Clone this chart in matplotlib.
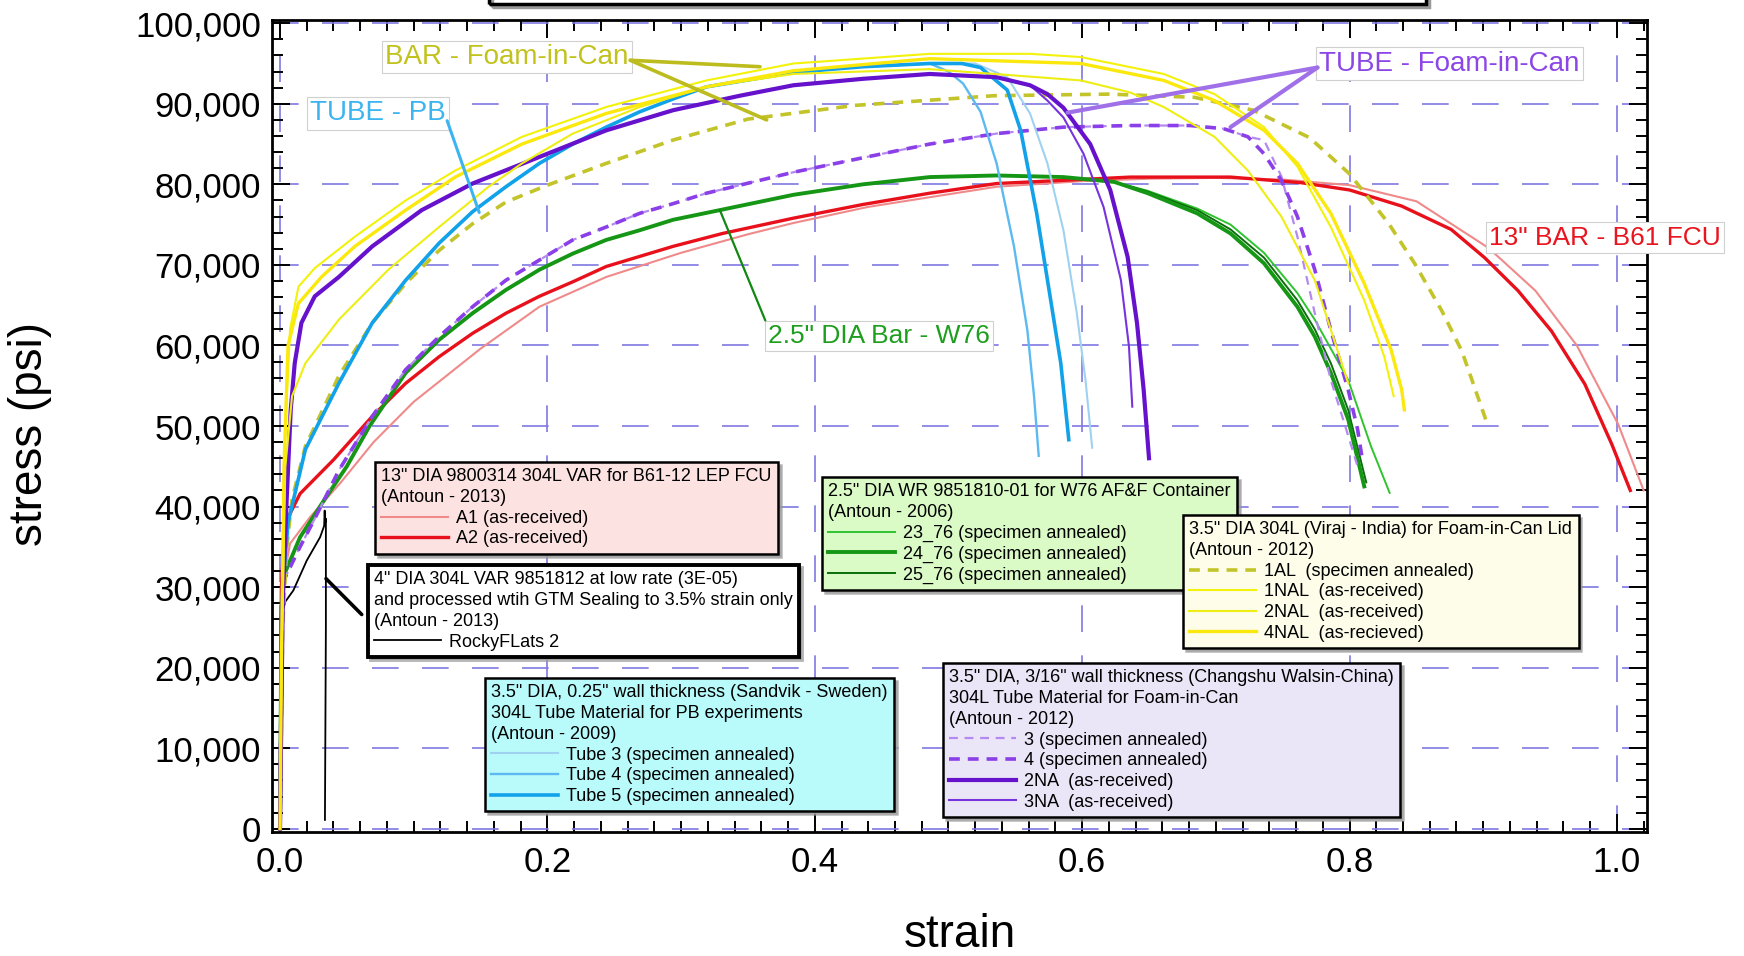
import matplotlib
matplotlib.use("Agg")
import matplotlib.pyplot as plt
from matplotlib.patches import Rectangle
from matplotlib.ticker import MultipleLocator, FuncFormatter, FormatStrFormatter

plt.rcParams['font.family'] = ['Liberation Sans', 'DejaVu Sans']

W, H = 1744, 956

# ---------------- stress-strain curves (strain, stress in ksi) ----------------
# 13" DIA 9800314 304L VAR, B61-12 LEP FCU
a1_strain = [0, 0.0015, 0.0075, 0.0225, 0.045, 0.07, 0.1, 0.15, 0.194, 0.244, 0.3, 0.35, 0.384,
             0.44, 0.486, 0.536, 0.6, 0.65, 0.7, 0.75, 0.8, 0.85, 0.904, 0.939, 0.97, 1.001, 1.02]
a1_ksi = [0, 30, 35.4, 38.7, 42.9, 48, 53, 59.6, 64.8, 68.5, 71.5, 73.8, 75.2,
          77.2, 78.4, 79.7, 80.4, 80.7, 80.8, 80.6, 79.9, 77.9, 72.1, 66.8, 60, 50.2, 42]
a2_strain = [0, 0.001, 0.0025, 0.005, 0.015, 0.04, 0.069, 0.094, 0.119, 0.144, 0.169, 0.194,
             0.219, 0.244, 0.294, 0.331, 0.384, 0.436, 0.486, 0.536, 0.586, 0.636, 0.711, 0.764,
             0.8, 0.839, 0.876, 0.901, 0.926, 0.951, 0.976, 0.996, 1.01]
a2_ksi = [0, 30, 34.6, 38.3, 41.6, 45.8, 51.2, 55.3, 58.6, 61.5, 64, 66.1,
          67.9, 69.8, 72.3, 73.9, 75.8, 77.5, 78.9, 80.1, 80.5, 80.9, 80.9, 80.2,
          79.3, 77.3, 74.4, 70.9, 66.8, 61.8, 55.2, 47.8, 42]

# 4" DIA 304L VAR 9851812, low rate, GTM sealing to 3.5% strain
rocky_strain = [0, 0.0008, 0.004, 0.01, 0.02, 0.03, 0.033, 0.0334, 0.0337, 0.0343, 0.0343, 0.0336]
rocky_ksi = [0, 26.3, 28.2, 29.6, 33.3, 36.2, 37.6, 39.5, 37.9, 38.5, 25, 1.1]

# 2.5" DIA WR 9851810-01, W76 AF&F container
w76_rise_strain = [0, 0.001, 0.003, 0.015, 0.033, 0.05, 0.067, 0.094, 0.119, 0.144, 0.169, 0.194,
                   0.219, 0.244, 0.269, 0.294, 0.329, 0.384, 0.436, 0.486, 0.536, 0.586, 0.624]
w76_rise_ksi = [0, 26, 31.5, 36.2, 40.8, 45, 50, 56.6, 60.7, 64, 66.9, 69.4,
                71.4, 73.1, 74.3, 75.6, 76.8, 78.7, 80, 80.9, 81.1, 80.9, 80.3]
g23_strain = w76_rise_strain + [0.649, 0.686, 0.711, 0.736, 0.761, 0.774, 0.799, 0.816, 0.83]
g23_ksi = w76_rise_ksi + [79.2, 77, 75, 71.5, 66.5, 63.2, 55.7, 47.5, 41.7]
g24_strain = w76_rise_strain + [0.649, 0.686, 0.711, 0.736, 0.761, 0.774, 0.786, 0.799, 0.811]
g24_ksi = w76_rise_ksi + [78.9, 76.4, 73.9, 70.2, 64.8, 61.1, 56.6, 50.8, 42.5]
g25_strain = w76_rise_strain + [0.649, 0.686, 0.711, 0.736, 0.761, 0.774, 0.786, 0.799, 0.8125]
g25_ksi = w76_rise_ksi + [79.1, 76.8, 74.4, 70.9, 65.6, 62, 57.8, 52, 43]

# 3.5" DIA 304L (Viraj - India), Foam-in-Can lid
al1_strain = [0, 0.002, 0.005, 0.009, 0.019, 0.044, 0.069, 0.094, 0.119, 0.144, 0.169, 0.2,
              0.244, 0.294, 0.35, 0.43, 0.534, 0.62, 0.684, 0.728, 0.77, 0.8, 0.829, 0.849,
              0.869, 0.884, 0.896, 0.9025]
al1_ksi = [0, 25, 35, 40.9, 47.5, 56.2, 62.8, 67.7, 71.8, 75.1, 77.8, 79.9,
           82.6, 85.5, 88.1, 89.8, 91, 91.2, 90.8, 89.2, 85.8, 81.3, 75.2, 70.1,
           64.3, 59.3, 53.6, 50.5]
nal1_strain = [0, 0.001, 0.004, 0.0075, 0.0138, 0.026, 0.056, 0.094, 0.131, 0.181, 0.244, 0.319,
               0.384, 0.486, 0.561, 0.599, 0.661, 0.699, 0.736, 0.761, 0.786, 0.811, 0.826, 0.833]
nal1_ksi = [0, 20, 50, 62, 67.3, 69.6, 73.5, 78, 81.7, 85.9, 89.6, 92.9,
            95, 96.2, 96.2, 95.8, 93.7, 91.2, 87.1, 82.2, 74.7, 65.6, 58.6, 53.7]
nal2_strain = [0, 0.001, 0.004, 0.009, 0.019, 0.044, 0.081, 0.119, 0.156, 0.181, 0.219, 0.269,
               0.319, 0.384, 0.486, 0.599, 0.636, 0.661, 0.699, 0.724, 0.749, 0.774, 0.799]
nal2_ksi = [0, 20, 45, 53.7, 57.8, 63.2, 69.4, 74.7, 79.7, 82.6, 86.3, 89.6,
            92.1, 93.7, 94.3, 92.9, 91.4, 89.6, 85.9, 81.7, 76, 68.1, 55.3]
nal4_strain = [0, 0.001, 0.003, 0.006, 0.0137, 0.031, 0.056, 0.094, 0.131, 0.181, 0.244, 0.319,
               0.384, 0.486, 0.599, 0.661, 0.699, 0.736, 0.761, 0.786, 0.811, 0.831, 0.839, 0.841]
nal4_ksi = [0, 20, 45, 60, 65.2, 68.5, 72.3, 76.8, 80.9, 85, 88.8, 92.1,
            94.1, 95.6, 95, 92.9, 90.4, 86.7, 82.6, 76.4, 67.7, 59.5, 54.5, 52]

# 3.5" DIA, 0.25" wall tube (Sandvik - Sweden), PB experiments
tube_rise_strain = [0, 0.002, 0.006, 0.019, 0.044, 0.069, 0.094, 0.119, 0.144, 0.169, 0.194,
                    0.219, 0.244, 0.269, 0.294, 0.319, 0.384, 0.436, 0.486]
tube_rise_ksi = [0, 30, 38, 47.1, 55.3, 62.8, 68.1, 72.7, 76.6, 79.7, 82.6,
                 85, 87.1, 89, 90.6, 92.1, 93.9, 94.6, 95]
tube3_strain = tube_rise_strain + [0.52, 0.544, 0.561, 0.574, 0.586, 0.596, 0.6025, 0.6075]
tube3_ksi = tube_rise_ksi + [95, 93.3, 88.8, 82.6, 74.3, 64, 55.7, 47.3]
tube4_strain = tube_rise_strain + [0.5, 0.511, 0.524, 0.536, 0.549, 0.559, 0.564, 0.5675]
tube4_ksi = tube_rise_ksi + [94, 92.5, 89, 82.6, 72.3, 61.9, 53.7, 46.3]
tube5_strain = tube_rise_strain + [0.51, 0.524, 0.544, 0.554, 0.566, 0.576, 0.584, 0.59]
tube5_ksi = tube_rise_ksi + [95, 94.5, 91.7, 86.7, 76.4, 66.1, 57.8, 48.3]

# 3.5" DIA, 3/16" wall tube (Changshu Walsin - China), Foam-in-Can
fic_rise_strain = [0, 0.001, 0.003, 0.015, 0.026, 0.044, 0.069, 0.094, 0.119, 0.144, 0.169,
                   0.194, 0.219, 0.244, 0.269, 0.294, 0.319, 0.344, 0.384, 0.436, 0.486, 0.536,
                   0.586, 0.636, 0.681, 0.706, 0.724]
fic_rise_ksi = [0, 25, 30.9, 35, 38.5, 44.5, 51.2, 57, 61.1, 64.8, 68.1,
                70.6, 73.1, 74.7, 76.4, 77.6, 78.9, 79.9, 81.5, 83.3, 85, 86.3,
                87.1, 87.3, 87.3, 86.9, 85.9]
t3_strain = fic_rise_strain + [0.736, 0.749, 0.761, 0.774, 0.786, 0.796, 0.806]
t3_ksi = fic_rise_ksi + [85.5, 81, 73.5, 64, 55.7, 50.4, 45]
t4_strain = fic_rise_strain + [0.736, 0.749, 0.761, 0.774, 0.786, 0.799, 0.806, 0.81]
t4_ksi = fic_rise_ksi + [83.8, 80.5, 76, 69.4, 61.9, 54.5, 49.6, 45.4]
na_rise_strain = [0, 0.002, 0.005, 0.008, 0.011, 0.016, 0.026, 0.044, 0.069, 0.106, 0.144, 0.194,
                  0.244, 0.294, 0.344, 0.384, 0.436, 0.486, 0.536, 0.561]
na_rise_ksi = [0, 28, 41, 52, 57.8, 62.8, 66.1, 68.5, 72.3, 76.8, 80.1, 83.4,
               86.7, 89.2, 91, 92.3, 93.1, 93.7, 93.3, 92.3]
na2_strain = na_rise_strain + [0.574, 0.586, 0.606, 0.621, 0.634, 0.641, 0.646, 0.65]
na2_ksi = na_rise_ksi + [91.2, 89.5, 85, 79.3, 71, 62.8, 54.5, 46]
na3_strain = na_rise_strain + [0.574, 0.586, 0.601, 0.616, 0.629, 0.635, 0.6375]
na3_ksi = na_rise_ksi + [90.4, 88.3, 83.8, 77.2, 68.1, 59.9, 52.4]


def psi(vals):
    return [v * 1000 for v in vals]


fig = plt.figure(figsize=(W / 100, H / 100), dpi=100)
ax = fig.add_axes([272 / W, 1 - 832 / H, 1375 / W, 812 / H])

dash_thick = (0, (3, 2.2))
dash_thin = (0, (4, 3))

l_rocky, = ax.plot(rocky_strain, psi(rocky_ksi), color='black', lw=1.3)
l_a1, = ax.plot(a1_strain, psi(a1_ksi), color='#f08a8a', lw=1.5)
l_a2, = ax.plot(a2_strain, psi(a2_ksi), color='#e8101a', lw=2.4)
l_g23, = ax.plot(g23_strain, psi(g23_ksi), color='#2fc42f', lw=1.4)
l_g25, = ax.plot(g25_strain, psi(g25_ksi), color='#0b6e0b', lw=1.4)
l_g24, = ax.plot(g24_strain, psi(g24_ksi), color='#159615', lw=2.8)
l_t3, = ax.plot(t3_strain, psi(t3_ksi), color='#b48af0', lw=1.6, ls=dash_thin)
l_t4, = ax.plot(t4_strain, psi(t4_ksi), color='#8a3fe8', lw=2.6, ls=dash_thick)
l_al1, = ax.plot(al1_strain, psi(al1_ksi), color='#c3c32a', lw=2.6, ls=dash_thick)
l_tube3, = ax.plot(tube3_strain, psi(tube3_ksi), color='#9fd2f0', lw=1.5)
l_tube4, = ax.plot(tube4_strain, psi(tube4_ksi), color='#5cbaf0', lw=1.7)
l_tube5, = ax.plot(tube5_strain, psi(tube5_ksi), color='#12a2ea', lw=2.6)
l_na3, = ax.plot(na3_strain, psi(na3_ksi), color='#7733dd', lw=1.5)
l_na2, = ax.plot(na2_strain, psi(na2_ksi), color='#6611cc', lw=3.0)
l_nal1, = ax.plot(nal1_strain, psi(nal1_ksi), color='#f2f20a', lw=1.5)
l_nal2, = ax.plot(nal2_strain, psi(nal2_ksi), color='#eeee14', lw=1.5)
l_nal4, = ax.plot(nal4_strain, psi(nal4_ksi), color='#fbe80c', lw=2.4)

ax.set_xlim(-0.006, 1.0225)
ax.set_ylim(-400, 100400)

ax.xaxis.set_major_locator(MultipleLocator(0.2))
ax.xaxis.set_minor_locator(MultipleLocator(0.02))
ax.yaxis.set_major_locator(MultipleLocator(10000))
ax.yaxis.set_minor_locator(MultipleLocator(2000))
ax.xaxis.set_major_formatter(FormatStrFormatter('%.1f'))
ax.yaxis.set_major_formatter(FuncFormatter(lambda v, pos: f'{v:,.0f}'))
ax.tick_params(which='both', direction='in', top=True, right=True, width=1.4, colors='black')
ax.tick_params(which='major', length=13, labelsize=25)
ax.tick_params(which='minor', length=8)
ax.tick_params(axis='x', which='major', pad=10)
ax.tick_params(axis='y', which='major', pad=8)
for sp in ax.spines.values():
    sp.set_linewidth(2)

ax.set_axisbelow(True)
ax.grid(True, which='major', color='#7f78e2', lw=1.2, ls=(0, (16, 14)))

ax.set_xlabel('strain', fontsize=33)
ax.xaxis.set_label_coords(0.5, -0.10)
ax.set_ylabel('stress (psi)', fontsize=33)
ax.yaxis.set_label_coords(-0.16, 0.49)

# ---------------- callout labels ----------------
lbl_box = dict(boxstyle='square,pad=0.12', fc='white', ec='#d0d0d0', lw=0.8)

ax.text(0.0785, 95800, 'BAR - Foam-in-Can', color='#c2c21e', fontsize=20,
        ha='left', va='center', bbox=lbl_box)
for tgt in [(0.359, 94600), (0.364, 88000)]:
    ax.annotate('', xy=tgt, xytext=(0.262, 95400),
                arrowprops=dict(arrowstyle='-', color='#bcbc1e', lw=2.6, shrinkA=0, shrinkB=0))

ax.text(0.0225, 88800, 'TUBE - PB', color='#3cb4f0', fontsize=20,
        ha='left', va='center', bbox=lbl_box)
ax.annotate('', xy=(0.149, 76500), xytext=(0.125, 87900),
            arrowprops=dict(arrowstyle='-', color='#3cb4f0', lw=2.2, shrinkA=0, shrinkB=0))

ax.text(0.7775, 95000, 'TUBE - Foam-in-Can', color='#8c46e6', fontsize=20,
        ha='left', va='center', bbox=lbl_box)
for tgt in [(0.589, 88900), (0.711, 87100)]:
    ax.annotate('', xy=tgt, xytext=(0.776, 94500),
                arrowprops=dict(arrowstyle='-', color='#a070e8', lw=3, shrinkA=0, shrinkB=0))

ax.text(0.365, 61200, '2.5" DIA Bar - W76', color='#1e9e1e', fontsize=19,
        ha='left', va='center', bbox=lbl_box)
ax.annotate('', xy=(0.329, 76800), xytext=(0.363, 63100),
            arrowprops=dict(arrowstyle='-', color='#118811', lw=1.6, shrinkA=0, shrinkB=0))

ax.text(0.9045, 73400, '13" BAR - B61 FCU', color='#e8141e', fontsize=19,
        ha='left', va='center', bbox=lbl_box)

ax.annotate('', xy=(0.0344, 31050), xytext=(0.0611, 26600),
            arrowprops=dict(arrowstyle='-', color='black', lw=2.6, shrinkA=0, shrinkB=0))


# ---------------- material legends ----------------
def add_box(handles, labels, title, face, left_px, top_px, edge_lw=1.8):
    leg = fig.legend(handles, labels, title=title, loc='upper left',
                     bbox_to_anchor=(left_px / W, 1 - top_px / H),
                     fontsize=13, title_fontsize=13, alignment='left',
                     handlelength=3.7, handletextpad=0.45, labelspacing=0.2,
                     borderpad=0.35, borderaxespad=0, fancybox=False,
                     facecolor=face, edgecolor='black', framealpha=1,
                     shadow={'ox': 2, 'oy': -2, 'color': '0.6', 'alpha': 0.7})
    leg.get_frame().set_linewidth(edge_lw)
    leg.get_title().set_linespacing(1.3)
    return leg


add_box([l_a1, l_a2], ['A1 (as-received)', 'A2 (as-received)'],
        '13" DIA 9800314 304L VAR for B61-12 LEP FCU\n(Antoun - 2013)',
        '#fde2e2', 375, 462)
add_box([l_rocky], ['RockyFLats 2'],
        '4" DIA 304L VAR 9851812 at low rate (3E-05)\n'
        'and processed wtih GTM Sealing to 3.5% strain only\n(Antoun - 2013)',
        'white', 368, 565, edge_lw=2.8)
add_box([l_g23, l_g24, l_g25],
        ['23_76 (specimen annealed)', '24_76 (specimen annealed)', '25_76 (specimen annealed)'],
        '2.5" DIA WR 9851810-01 for W76 AF&F Container\n(Antoun - 2006)',
        '#dbfbc6', 822, 477)
add_box([l_al1, l_nal1, l_nal2, l_nal4],
        ['1AL  (specimen annealed)', '1NAL  (as-received)', '2NAL  (as-received)',
         '4NAL  (as-recieved)'],
        '3.5" DIA 304L (Viraj - India) for Foam-in-Can Lid\n(Antoun - 2012)',
        '#fdfdea', 1183, 515)
add_box([l_tube3, l_tube4, l_tube5],
        ['Tube 3 (specimen annealed)', 'Tube 4 (specimen annealed)', 'Tube 5 (specimen annealed)'],
        '3.5" DIA, 0.25" wall thickness (Sandvik - Sweden)\n'
        '304L Tube Material for PB experiments\n(Antoun - 2009)',
        '#b9fbfb', 485, 678)
add_box([l_t3, l_t4, l_na2, l_na3],
        ['3 (specimen annealed)', '4 (specimen annealed)', '2NA  (as-received)',
         '3NA  (as-received)'],
        '3.5" DIA, 3/16" wall thickness (Changshu Walsin-China)\n'
        '304L Tube Material for Foam-in-Can\n(Antoun - 2012)',
        '#ebe6f7', 943, 663)

# title frame running off the top edge
fig.patches.append(Rectangle((492 / W, 1 - 7 / H), 937 / W, 0.1, transform=fig.transFigure,
                             fill=False, ec='#999999', lw=2.5))
fig.patches.append(Rectangle((489 / W, 1 - 4 / H), 937 / W, 0.1, transform=fig.transFigure,
                             fill=False, ec='black', lw=2.5))

fig.savefig('out.png', dpi=100, facecolor='white')
